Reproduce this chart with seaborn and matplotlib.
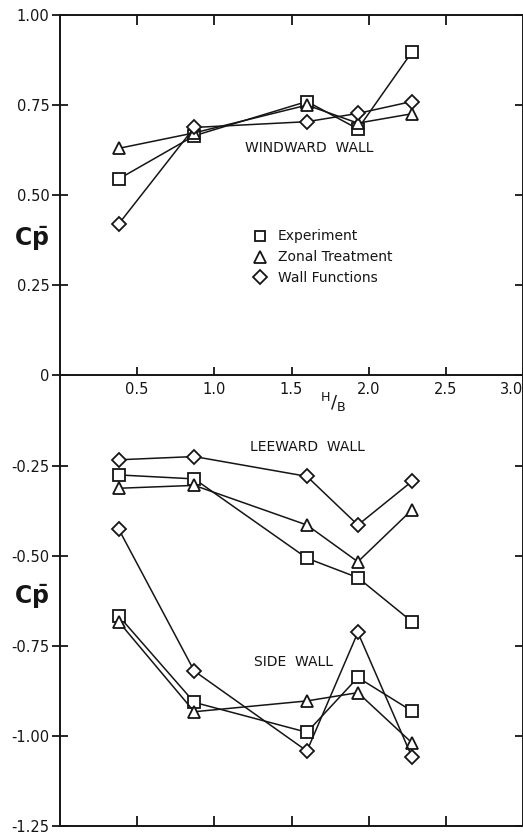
import matplotlib
matplotlib.use("Agg")
import matplotlib.pyplot as plt
import seaborn as sns
import pandas as pd
from matplotlib.lines import Line2D

# ---------------- data ----------------
hb = [0.38, 0.87, 1.60, 1.93, 2.28]
methods = ["Experiment", "Zonal Treatment", "Wall Functions"]
walls = ["Windward", "Leeward", "Side"]

windward_exp = [0.545, 0.665, 0.760, 0.684, 0.897]
windward_zonal = [0.630, 0.673, 0.750, 0.700, 0.726]
windward_wall = [0.420, 0.688, 0.704, 0.727, 0.760]

leeward_exp = [-0.276, -0.287, -0.507, -0.561, -0.683]
leeward_zonal = [-0.313, -0.305, -0.415, -0.517, -0.373]
leeward_wall = [-0.234, -0.225, -0.280, -0.415, -0.294]

side_exp = [-0.667, -0.907, -0.990, -0.838, -0.931]
side_zonal = [-0.683, -0.933, -0.903, -0.880, -1.019]
side_wall = [-0.426, -0.820, -1.042, -0.713, -1.058]

x_ticks = [0.5, 1.0, 1.5, 2.0, 2.5, 3.0]
x_tick_labels = ["0.5", "1.0", "1.5", "2.0", "2.5", "3.0"]
y_ticks = [1.0, 0.75, 0.5, 0.25, 0.0, -0.25, -0.5, -0.75, -1.0, -1.25]
y_tick_labels = ["1.00", "0.75", "0.50", "0.25", "0", "-0.25", "-0.50", "-0.75", "-1.00", "-1.25"]

series = {
    ("Windward", "Experiment"): windward_exp,
    ("Windward", "Zonal Treatment"): windward_zonal,
    ("Windward", "Wall Functions"): windward_wall,
    ("Leeward", "Experiment"): leeward_exp,
    ("Leeward", "Zonal Treatment"): leeward_zonal,
    ("Leeward", "Wall Functions"): leeward_wall,
    ("Side", "Experiment"): side_exp,
    ("Side", "Zonal Treatment"): side_zonal,
    ("Side", "Wall Functions"): side_wall,
}
rows = []
for (wall, method), vals in series.items():
    for x, y in zip(hb, vals):
        rows.append({"HB": x, "Cp": y, "method": method, "unit": f"{wall}-{method}"})
df = pd.DataFrame(rows)

markers = {"Experiment": "s", "Zonal Treatment": "^", "Wall Functions": "D"}
msizes = {"Experiment": 8, "Zonal Treatment": 9, "Wall Functions": 7.5}

# ---------------- figure ----------------
sns.set_theme(style="ticks")
plt.rcParams["font.family"] = ["DejaVu Sans"]
plt.rcParams["mathtext.fontset"] = "dejavusans"

W, H = 523, 835
fig = plt.figure(figsize=(W / 100, H / 100), dpi=100)
fig.patch.set_facecolor("white")
left_px, right_px, top_px, bot_px = 60, 523, 15, 826
ax = fig.add_axes([left_px / W, (H - bot_px) / H, (right_px - left_px) / W, (bot_px - top_px) / H])
ax.set_facecolor("white")

ink = "#151515"
for m in methods:
    sub = df[df["method"] == m]
    sns.lineplot(data=sub, x="HB", y="Cp", units="unit", estimator=None, sort=False,
                 color=ink, lw=1.1, marker=markers[m], markersize=msizes[m],
                 markerfacecolor="white", markeredgecolor=ink, markeredgewidth=1.3,
                 ax=ax, legend=False)

ax.set_xlim(0, 3.0)
ax.set_ylim(-1.25, 1.0)
ax.set_xlabel("")
ax.set_ylabel("")

for s in ax.spines.values():
    s.set_color(ink)
    s.set_linewidth(1.4)

ax.set_yticks(y_ticks, y_tick_labels)
ax.set_xticks(x_ticks[:-1])
ax.tick_params(axis="x", which="both", bottom=True, top=True, labelbottom=False,
               direction="in", length=7, width=1.3, color=ink)
ax.tick_params(axis="y", left=True, right=True, direction="inout", length=11,
               width=1.3, color=ink, labelsize=10.5, labelcolor=ink, pad=2)
# right ticks inward
for t in ax.yaxis.get_major_ticks():
    t.tick2line.set_markersize(6)
    t.tick2line.set_marker(matplotlib.lines.TICKLEFT)

# x axis drawn along Cp = 0
sec = ax.secondary_xaxis(0.0, transform=ax.transData)
sec.set_xticks(x_ticks, x_tick_labels)
sec.tick_params(direction="in", length=6, width=1.3, color=ink, labelsize=10.5,
                labelcolor=ink, pad=5)
sec.spines["bottom"].set_color(ink)
sec.spines["bottom"].set_linewidth(1.4)
fig.canvas.draw()
sec.xaxis.get_major_ticks()[-1].label1.set_horizontalalignment("right")

ax.text(1.77, -0.075, r"$^{\mathsf{H}}/_{\mathsf{B}}$", ha="center", va="center",
        fontsize=13, color=ink)

# y labels
for yy in [0.38, -0.615]:
    ax.text(-0.185, yy, r"$\mathbf{C\bar{p}}$", ha="center", va="center",
            fontsize=17, color=ink, transform=ax.transData, clip_on=False)

# region labels
ax.text(1.20, 0.631, "WINDWARD  WALL", fontsize=10, color=ink, va="center", ha="left")
ax.text(1.23, -0.199, "LEEWARD  WALL", fontsize=10, color=ink, va="center", ha="left")
ax.text(1.26, -0.795, "SIDE  WALL", fontsize=10, color=ink, va="center", ha="left")

# legend
handles = [Line2D([], [], ls="none", marker=markers[m], markersize=msizes[m] * 0.9,
                  markerfacecolor="white", markeredgecolor=ink, markeredgewidth=1.3)
           for m in methods]
leg = ax.legend(handles, methods, loc="upper left", bbox_to_anchor=(1.25, 0.405),
                bbox_transform=ax.transData, frameon=False, fontsize=10,
                handlelength=1.0, handletextpad=0.8, labelspacing=0.5,
                borderpad=0, borderaxespad=0)
for t in leg.get_texts():
    t.set_color(ink)

fig.savefig("out.png", dpi=100, facecolor="white")
